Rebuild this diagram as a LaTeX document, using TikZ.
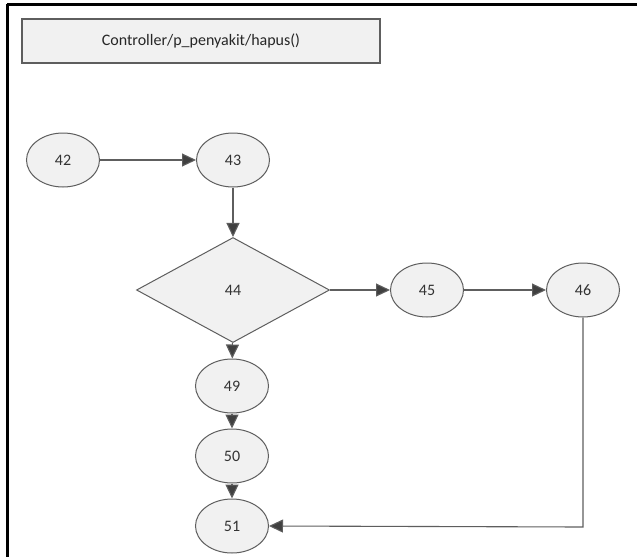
\documentclass[tikz,border=0pt]{standalone}
\usepackage{fontspec}
\setmainfont{Carlito}
\usetikzlibrary{shapes.geometric,arrows.meta}
\definecolor{edgegray}{HTML}{5E5E5E}
\definecolor{fillgray}{HTML}{F1F1F1}
\definecolor{arrowgray}{HTML}{404040}
\tikzset{
  nd/.style={ellipse,draw=edgegray,fill=fillgray,line width=1pt,minimum width=73pt,minimum height=54pt,inner sep=0pt,font=\fontsize{16}{18}\selectfont,text=black!80},
  dec/.style={diamond,draw=edgegray,fill=fillgray,line width=1pt,minimum width=193pt,minimum height=105pt,aspect=1.84,inner sep=0pt,font=\fontsize{16}{18}\selectfont,text=black!80},
  titlebox/.style={rectangle,draw=edgegray,fill=fillgray,line width=1.2pt,minimum width=358pt,minimum height=44pt,font=\fontsize{16}{18}\selectfont,text=black!85},
  conn/.style={draw=edgegray,line width=1.1pt,-{Triangle[length=14pt,width=13pt,fill=arrowgray]}},
  frame/.style={draw=black,line width=3pt}
}
\begin{document}
\begin{tikzpicture}[x=1pt,y=-1pt]
\useasboundingbox (0,0) rectangle (637,557);
\fill[white] (0,0) rectangle (637,557);
\draw[frame] (7,4) -- (637,4);
\draw[frame] (7,4) -- (7,557);
\node[titlebox] (title) at (201,41) {Controller/p\_penyakit/hapus()};
\node[nd] (n42) at (63,160) {42};
\node[nd] (n43) at (233,160) {43};
\node[dec] (n44) at (233,290) {44};
\node[nd] (n45) at (427,290) {45};
\node[nd] (n46) at (583,290) {46};
\node[nd] (n49) at (232,386) {49};
\node[nd] (n50) at (232,456) {50};
\node[nd] (n51) at (232,526) {51};
\coordinate (corner) at (583,527);
\draw[conn] (n42) -- (n43);
\draw[conn] (n43) -- (n44);
\draw[conn] (n44) -- (n45);
\draw[conn] (n45) -- (n46);
\draw[conn] (n44) -- (n49);
\draw[conn] (n49) -- (n50);
\draw[conn] (n50) -- (n51);
\draw[conn] (n46.south) -- (corner) -- (n51.east);
\end{tikzpicture}
\end{document}
